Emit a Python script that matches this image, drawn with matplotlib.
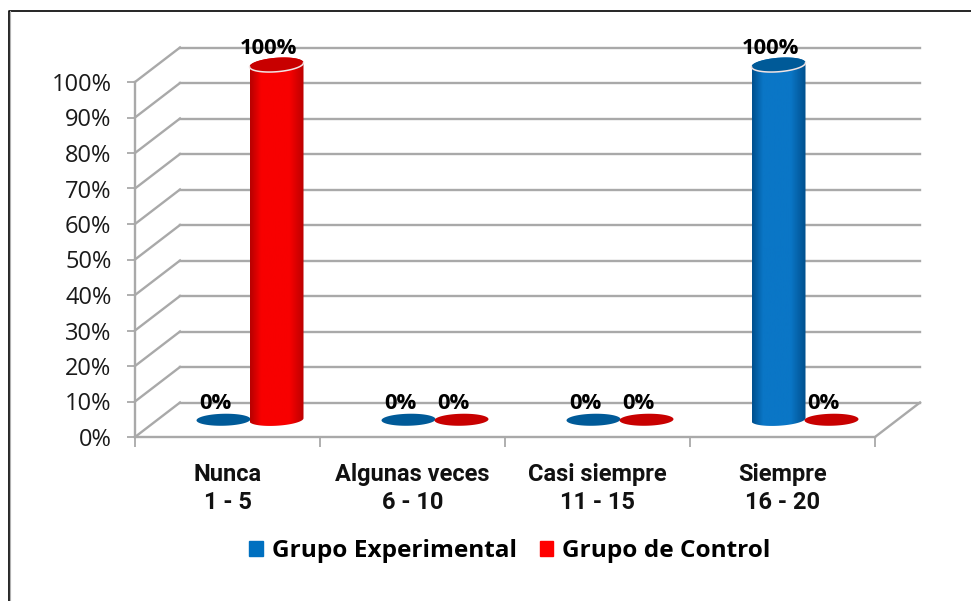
import numpy as np
import matplotlib
matplotlib.use('Agg')
import matplotlib.pyplot as plt
from matplotlib.colors import LinearSegmentedColormap
from matplotlib.lines import Line2D
from matplotlib.patches import Patch, Polygon

categories = ['Nunca\n1 - 5', 'Algunas veces\n6 - 10', 'Casi siempre\n11 - 15', 'Siempre\n16 - 20']
experimental = [0, 0, 0, 100]
control = [100, 0, 0, 0]
y_ticks = [0, 10, 20, 30, 40, 50, 60, 70, 80, 90, 100]

W, H = 971, 601
LEFT, RIGHT, TOP, BOTTOM = 135, 875, 82, 437
PX_X = 4 / (RIGHT - LEFT)
PX_Y = 100 / (BOTTOM - TOP)
DX = 45 * PX_X
DY = 34.5 * PX_Y
GRID = '#a9a9a9'

plt.rcParams['font.family'] = ['Open Sans', 'DejaVu Sans']

fig = plt.figure(figsize=(W / 100, H / 100), dpi=100)
ax = fig.add_axes([LEFT / W, 1 - BOTTOM / H, (RIGHT - LEFT) / W, (BOTTOM - TOP) / H])


def ellipse_pts(xc, yc, half_w, half_h, tilt=0.0, start=0, stop=2 * np.pi):
    t = np.linspace(start, stop, 60)
    x = xc + half_w * np.cos(t)
    # right end sits a bit higher like in the 3d view
    y = yc + half_h * np.sin(t) + tilt * PX_Y * np.cos(t)
    return np.column_stack([x, y])


def draw_bar(xc, value, edge, mid, top_color):
    half_w = 27 * PX_X
    half_h = 7 * PX_Y
    yc = DY / 2
    if value == 0:
        ax.add_patch(Polygon(ellipse_pts(xc, yc, half_w, half_h - 1 * PX_Y, 0.6), color=top_color,
                             lw=0, zorder=3, clip_on=False))
        return
    lower = ellipse_pts(xc, yc, half_w, half_h - 1 * PX_Y, 1.5, np.pi, 2 * np.pi)
    upper = ellipse_pts(xc, yc + value, half_w, half_h, 2.0, 0, np.pi)
    body = Polygon(np.vstack([lower, upper]), closed=True, transform=ax.transData, fc='none', ec='none')
    ax.add_patch(body)
    cmap = LinearSegmentedColormap.from_list('cyl', [(0, edge), (0.2, mid), (0.72, mid), (1, edge)])
    img = ax.imshow(np.linspace(0, 1, 80)[None, :], cmap=cmap, aspect='auto', zorder=3,
                    extent=[xc - half_w, xc + half_w, 0, yc + value + half_h])
    # the cylinder pokes out above the 100 line, so the clip box is the whole figure
    img.set_clip_box(fig.bbox)
    img.set_clip_path(body)
    ax.add_patch(Polygon(ellipse_pts(xc, yc + value, half_w, half_h, 2.0), fc=top_color, ec='none',
                         zorder=4, clip_on=False))
    rim = ellipse_pts(xc, yc + value, half_w, half_h, 2.0, np.pi, 2 * np.pi)
    ax.plot(rim[:, 0], rim[:, 1], color='#f2e4e4', lw=1.1, zorder=5, clip_on=False)


# back wall and side wall
for v in y_ticks:
    ax.plot([DX, 4 + DX], [v + DY, v + DY], color=GRID, lw=1.7, zorder=1, clip_on=False)
    ax.plot([0, DX], [v, v + DY], color=GRID, lw=1.7, zorder=1, clip_on=False)
ax.plot([4, 4 + DX], [0, DY], color=GRID, lw=1.7, zorder=1, clip_on=False)

for i in range(len(categories)):
    center = i + 0.5 + DX / 2
    x_exp = center - 26.5 * PX_X
    x_ctl = center + 26.5 * PX_X
    draw_bar(x_exp, experimental[i], '#00508e', '#0a76c6', '#005a98')
    draw_bar(x_ctl, control[i], '#b80000', '#f80000', '#c80000')
    for x, v in ((x_exp, experimental[i]), (x_ctl, control[i])):
        ax.annotate(f'{v}%', (x, v + DY / 2), xytext=(-6, 11.5), textcoords='offset points',
                    ha='center', va='center', fontsize=15.8, fontweight='bold',
                    color='black', zorder=6, annotation_clip=False)

ax.set_xlim(0, 4)
ax.set_ylim(0, 100)
ax.patch.set_alpha(0)
for side in ('top', 'right'):
    ax.spines[side].set_visible(False)
for side in ('left', 'bottom'):
    ax.spines[side].set_color(GRID)
    ax.spines[side].set_linewidth(1.7)

ax.set_yticks(y_ticks)
ax.set_yticklabels([f'{v}%' for v in y_ticks], fontsize=17, color='#1a1a1a')
ax.tick_params(axis='y', color=GRID, width=1.3, length=6, pad=11)
ax.set_xticks(range(5))
ax.set_xticklabels([])
ax.set_xticks(np.arange(len(categories)) + 0.5, minor=True)
ax.set_xticklabels(categories, minor=True, family='Roboto', fontweight='bold', fontsize=17,
                   linespacing=1.28, color='#111111')
ax.tick_params(axis='x', which='major', color=GRID, width=1.3, length=7)
ax.tick_params(axis='x', which='minor', length=0, pad=19)

handles = [Patch(color='#0070c0', label='Grupo Experimental'), Patch(color='#ff0000', label='Grupo de Control')]
leg = ax.legend(handles=handles, loc='center', ncol=2, frameon=False,
                bbox_to_anchor=((510 - LEFT) / (RIGHT - LEFT), (BOTTOM - 551) / (BOTTOM - TOP)),
                prop={'family': 'Open Sans', 'weight': 'bold', 'size': 17.6},
                handlelength=0.55, handleheight=0.55, handletextpad=0.36, columnspacing=0.95)

# frame of the pasted picture, only left and top are there
fig.add_artist(Line2D([8.8 / W, 8.8 / W, 1], [0, 1 - 10.5 / H, 1 - 10.5 / H], color='black', lw=1.2))
fig.add_artist(Line2D([10.3 / W, 10.3 / W], [0, 1 - 11 / H], color='#b0b0b0', lw=0.8))

fig.savefig('out.png', dpi=100)
